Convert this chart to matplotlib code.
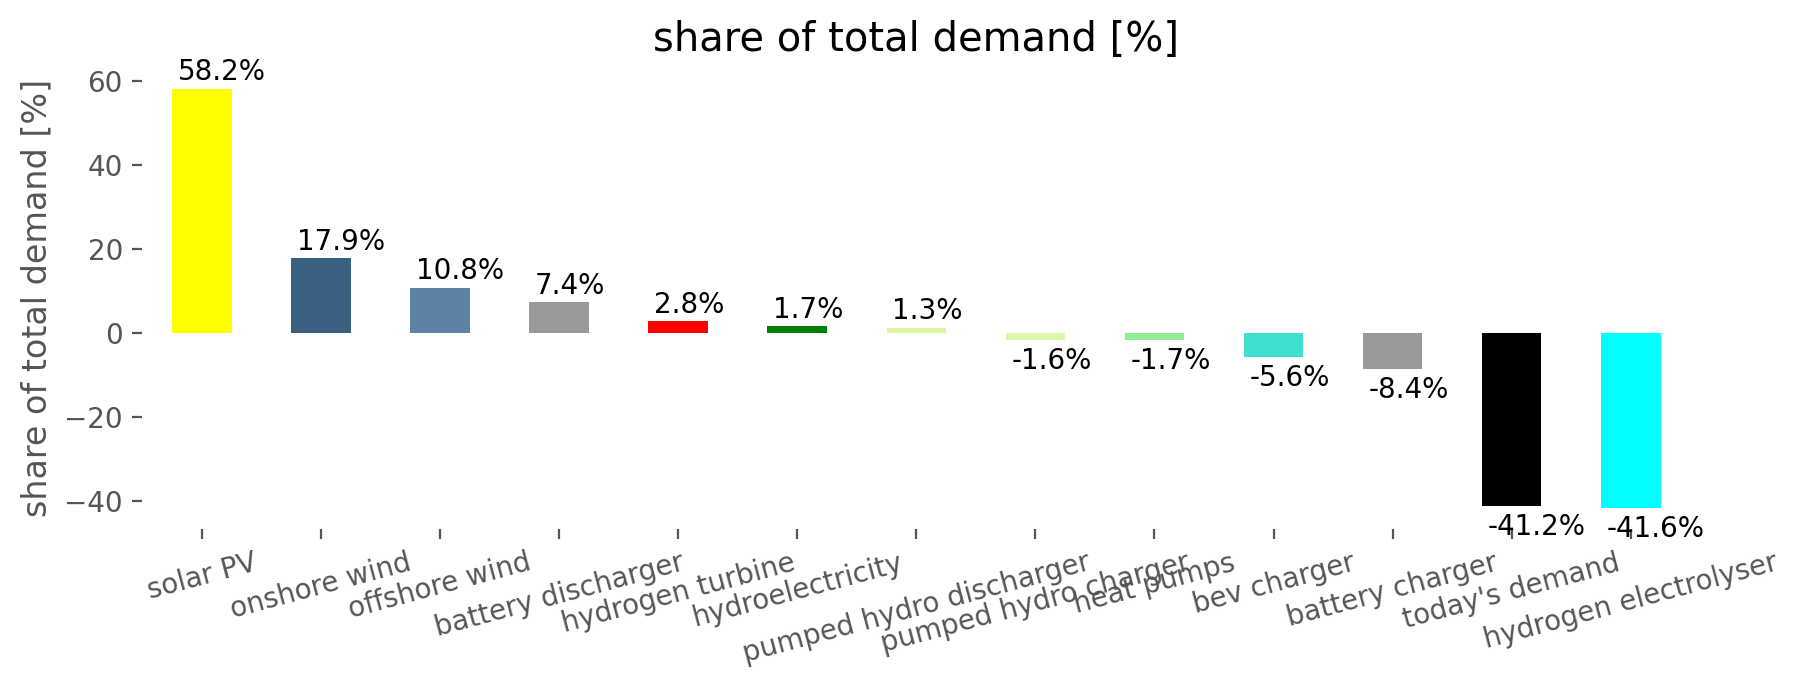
import matplotlib
matplotlib.use("Agg")
import matplotlib.pyplot as plt
import pandas as pd

# ---------- data ----------
techs = [
    "solar PV", "onshore wind", "offshore wind", "battery discharger",
    "hydrogen turbine", "hydroelectricity", "pumped hydro discharger",
    "pumped hydro charger", "heat pumps", "bev charger", "battery charger",
    "today's demand", "hydrogen electrolyser",
]
share = [58.2, 17.9, 10.8, 7.4, 2.8, 1.7, 1.3,
         -1.6, -1.7, -5.6, -8.4, -41.2, -41.6]
colors = [
    "#ffff00", "#3b6182", "#5c83a4", "#999999", "#ff0000", "#008000",
    "#daf7a6", "#daf7a6", "#90ee90", "#40e0d0", "#999999", "#000000",
    "#00ffff",
]

s = pd.Series(share, index=techs)

# ---------- style ----------
grey = "#555555"
plt.rcParams.update({
    "font.family": "DejaVu Sans",
    "font.size": 10,
    "xtick.color": grey,
    "ytick.color": grey,
    "axes.labelcolor": grey,
    "xtick.direction": "out",
    "ytick.direction": "out",
})

fig, ax = plt.subplots(figsize=(9.01, 3.445), dpi=200)
fig.subplots_adjust(left=0.079, right=0.938, top=0.902, bottom=0.232)

s.plot.bar(ax=ax, color=colors, width=0.5)

# value labels: above positive bars, below negative ones
for p in ax.patches:
    h = p.get_height()
    if h >= 0:
        ax.annotate(f"{h:.1f}%", (p.get_x(), h), xytext=(2, 3),
                    textcoords="offset points", va="baseline", ha="left",
                    fontsize=10)
    else:
        ax.annotate(f"{h:.1f}%", (p.get_x(), h), xytext=(2, -2.5),
                    textcoords="offset points", va="top", ha="left",
                    fontsize=10)

for sp in ax.spines.values():
    sp.set_visible(False)
ax.grid(False)
ax.set_facecolor("white")

ax.set_title("share of total demand [%]", fontsize=14.4)
ax.set_ylabel("share of total demand [%]", fontsize=12)
ax.set_xlabel("")
plt.setp(ax.get_xticklabels(), rotation=15, ha="center")
ax.tick_params(axis="both", length=3.5, width=0.8, color=grey)

fig.savefig("out.png", dpi=200)
